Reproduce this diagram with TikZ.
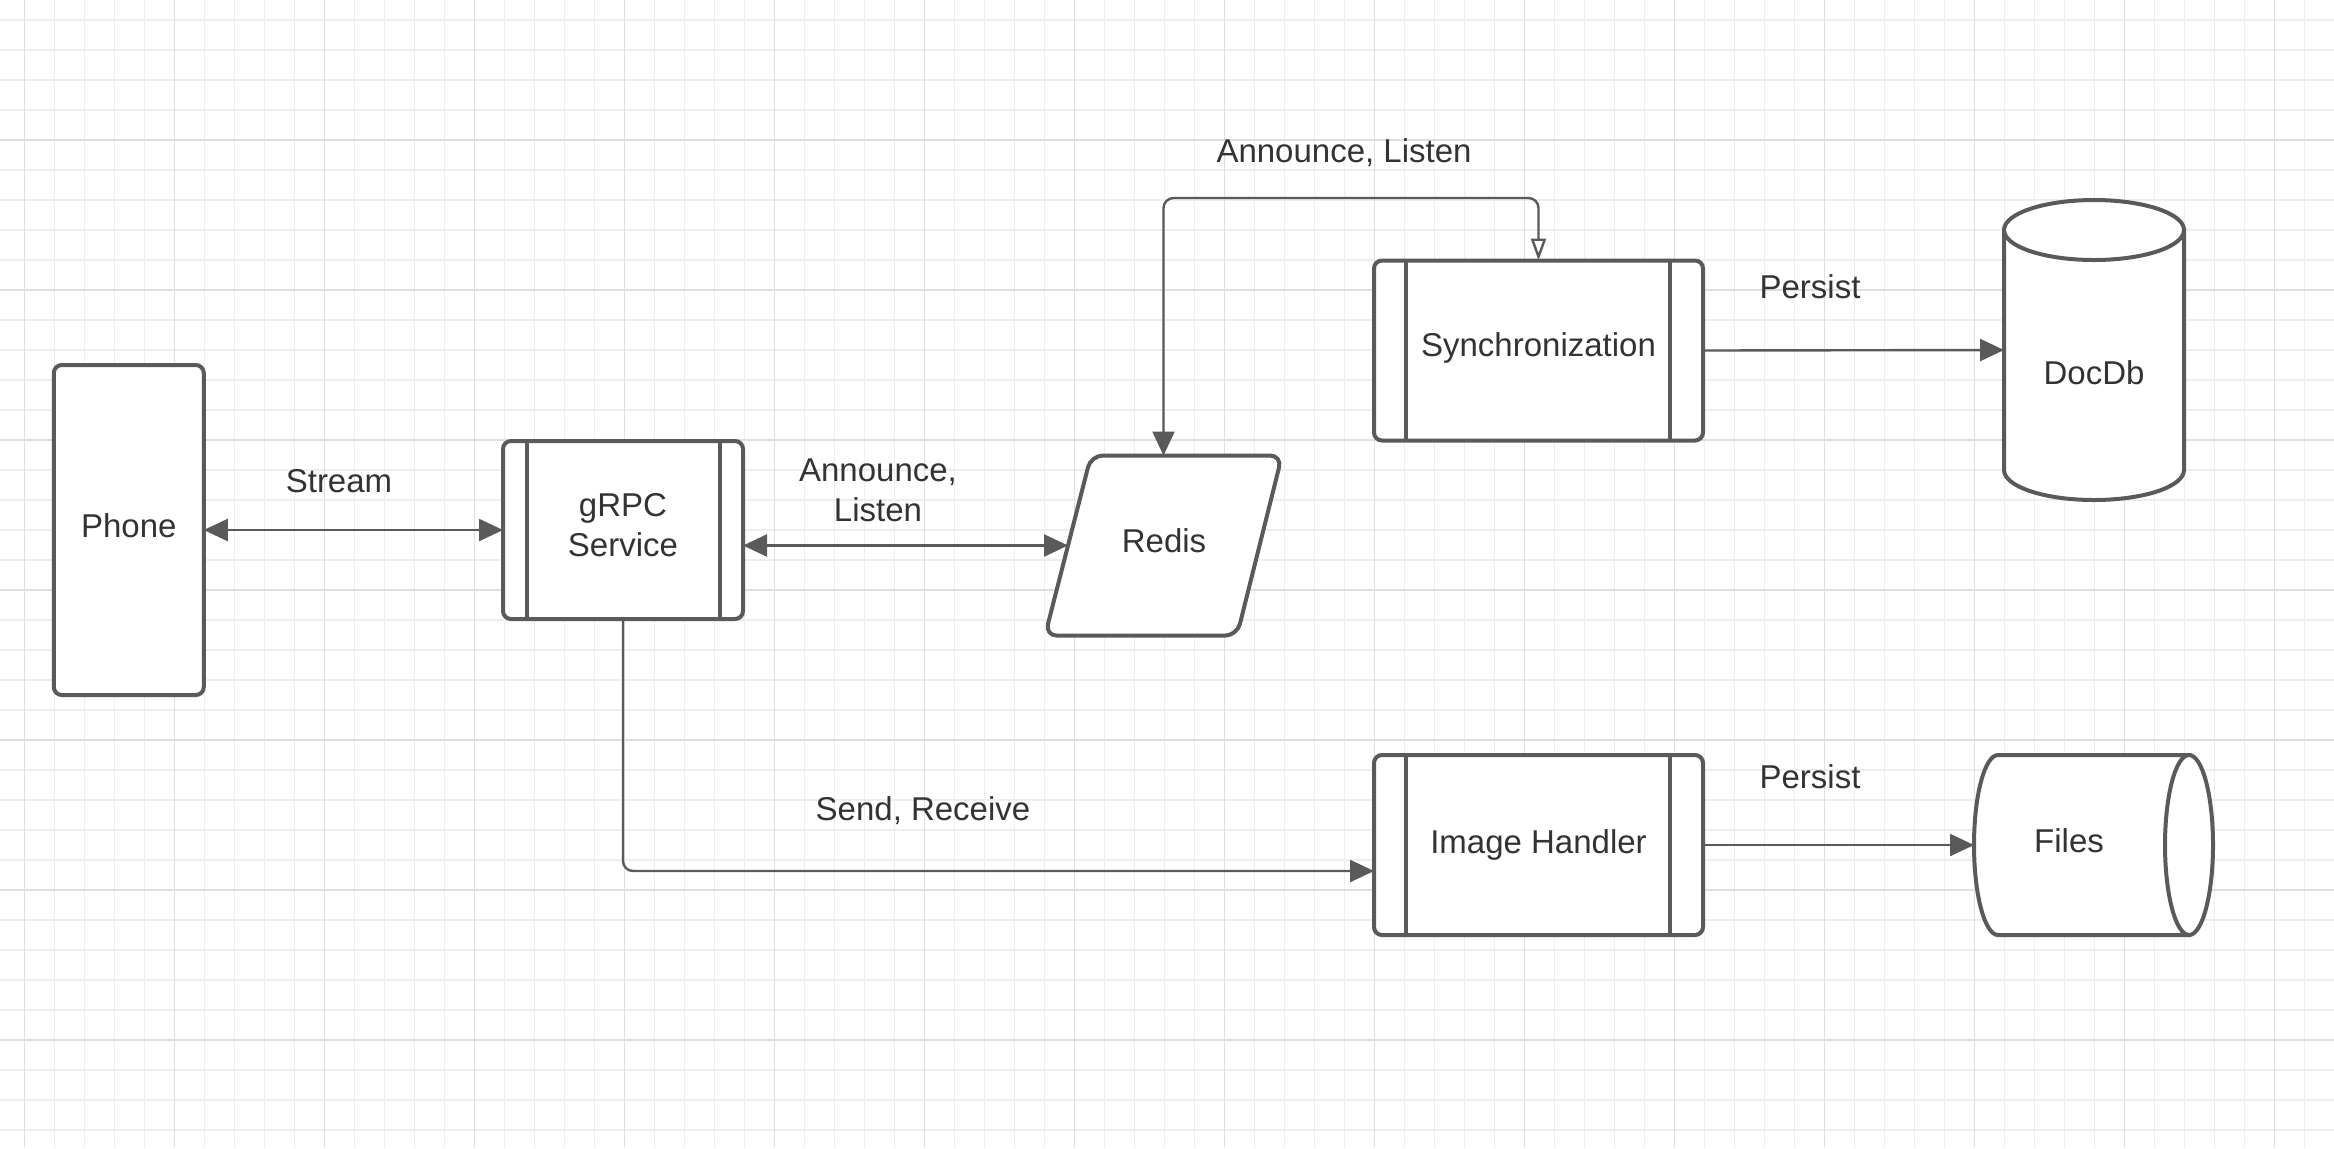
\documentclass[tikz,border=0pt]{standalone}
\usepackage{fontspec}
\setmainfont{Liberation Sans}
\usetikzlibrary{arrows.meta,shapes.geometric}
\definecolor{edge}{HTML}{5A5A5A}
\definecolor{txt}{HTML}{333333}
\definecolor{gminor}{HTML}{EEEEEE}
\definecolor{gmajor}{HTML}{DFDFDF}
\begin{document}
\begin{tikzpicture}[x=0.5pt,y=-0.5pt,
  font=\fontsize{16.5}{20}\selectfont, text=txt,
  box/.style={draw=edge, line width=2pt, rounded corners=4pt, fill=white, align=center, inner sep=0pt, outer sep=0pt},
  bar/.style={draw=edge, line width=2pt},
  shp/.style={draw=edge, line width=2pt, fill=white},
  conn/.style={draw=edge, line width=1.2pt, rounded corners=5pt},
  ftip/.tip={Triangle[length=12pt,width=11pt]},
  otip/.tip={Triangle[open,length=11pt,width=7.5pt,fill=white]},
  lbl/.style={align=center, inner sep=0pt}]
\useasboundingbox (0,0) rectangle (2334,1148);
\fill[white] (0,0) rectangle (2334,1148);
% grid
\foreach \k in {0,...,77} {\draw[gminor, line width=0.7pt] ({24.3+30*\k},0) -- ({24.3+30*\k},1148);}
\foreach \k in {0,...,38} {\draw[gminor, line width=0.7pt] (0,{20+30*\k}) -- (2334,{20+30*\k});}
\foreach \k in {0,...,15} {\draw[gmajor, line width=0.8pt] ({24.3+150*\k},0) -- ({24.3+150*\k},1148);}
\foreach \k in {1,...,8} {\draw[gmajor, line width=0.8pt] (0,{-10+150*\k}) -- (2334,{-10+150*\k});}

% nodes
\node[box, minimum width=75pt, minimum height=165pt] (phone) at (128.8,530) {};
\node[lbl] (phonet) at (128.8,526) {Phone};
\node[box, minimum width=120pt, minimum height=89pt] (grpc) at (623,530) {};
\node[lbl] (grpct) at (623,525) {gRPC\\Service};
\draw[bar] ([xshift=12pt]grpc.north west) -- ([xshift=12pt]grpc.south west);
\draw[bar] ([xshift=-11.5pt]grpc.north east) -- ([xshift=-11.5pt]grpc.south east);

% Redis parallelogram
\draw[shp, rounded corners=6pt] (1091,455.5) -- (1282,455.5) -- (1237,635.6) -- (1045,635.6) -- cycle;
\node[inner sep=0pt, outer sep=0pt, minimum width=118.5pt, minimum height=90pt] (redis) at (1163.5,545.5) {};
\node[lbl] (redist) at (1164,541) {Redis};
\coordinate (redisL) at (1068,545.5);

\node[box, minimum width=164.5pt, minimum height=90pt] (sync) at (1538.5,350.5) {};
\node[lbl] (synct) at (1538.5,348) {Synchronization};
\draw[bar] ([xshift=16pt]sync.north west) -- ([xshift=16pt]sync.south west);
\draw[bar] ([xshift=-16.5pt]sync.north east) -- ([xshift=-16.5pt]sync.south east);
\node[box, minimum width=164.5pt, minimum height=90pt] (ih) at (1538.5,845) {Image Handler};
\draw[bar] ([xshift=16pt]ih.north west) -- ([xshift=16pt]ih.south west);
\draw[bar] ([xshift=-16.5pt]ih.north east) -- ([xshift=-16.5pt]ih.south east);

% DocDb cylinder
\draw[shp] (2004,230) -- (2004,470) arc[start angle=180,end angle=360,x radius=45pt,y radius=15pt] -- (2184,230) -- cycle;
\draw[shp] (2094,230) ellipse[x radius=45pt, y radius=15pt];
\node[inner sep=0pt, outer sep=0pt, minimum width=90pt, minimum height=150pt] (docdb) at (2094,350) {};
\node[lbl] (docdbt) at (2094,373) {DocDb};

% Files cylinder
\draw[shp] (2189,755) -- (1998,755) arc[start angle=90,end angle=270,x radius=12pt,y radius=45pt] -- (2189,935) -- cycle;
\draw[shp] (2189,845) ellipse[x radius=12pt, y radius=45pt];
\node[inner sep=0pt, outer sep=0pt, minimum width=119.5pt, minimum height=90pt] (files) at (2093.5,845) {};
\node[lbl] (filest) at (2069,841) {Files};

% connectors
\draw[conn, ftip-ftip] (phone.east) -- (grpc.west);
\draw[conn, ftip-ftip] (redisL -| grpc.east) -- (redisL);
\coordinate (topc) at (1164,198);
\draw[conn, ftip-otip] (redis.north) -- (redis.north |- topc) -- (sync.north |- topc) -- (sync.north);
\draw[conn, -ftip] (sync.east) -- (docdb.west);
\coordinate (ihin) at (1374,871);
\draw[conn, -ftip] (grpc.south) |- (ihin);
\draw[conn, -ftip] (ih.east) -- (files.west);

% labels
\node[lbl] (l1) at (339,481) {Stream};
\node[lbl] (l2) at (878,490) {Announce,\\Listen};
\node[lbl] (l3) at (1344,153) {Announce, Listen};
\node[lbl] (l4) at (1810,287) {Persist};
\node[lbl] (l5) at (1810,777) {Persist};
\node[lbl] (l6) at (923,811) {Send, Receive};
\end{tikzpicture}
\end{document}
